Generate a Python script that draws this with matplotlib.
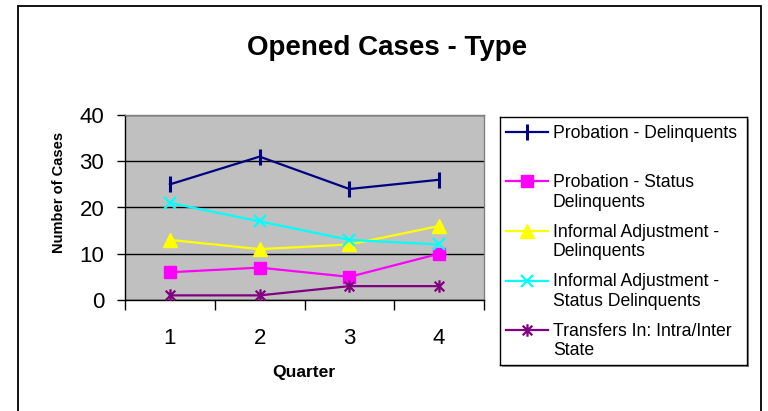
import matplotlib
matplotlib.use("Agg")
import matplotlib.pyplot as plt
from matplotlib.path import Path
from matplotlib.patches import Rectangle
from matplotlib.lines import Line2D

plt.rcParams['font.family'] = ['Liberation Sans', 'DejaVu Sans']

quarters = [1, 2, 3, 4]
probation_delinquents = [25, 31, 24, 26]
probation_status = [6, 7, 5, 10]
informal_delinquents = [13, 11, 12, 16]
informal_status = [21, 17, 13, 12]
transfers_in = [1, 1, 3, 3]

series_labels = [
    "Probation - Delinquents\n ",
    "Probation - Status\nDelinquents",
    "Informal Adjustment -\nDelinquents",
    "Informal Adjustment -\nStatus Delinquents",
    "Transfers In: Intra/Inter\nState",
]
y_ticks = [0, 10, 20, 30, 40]

star = Path([(-1, -1), (1, 1), (-1, 1), (1, -1), (0, -1.3), (0, 1.3)],
            [Path.MOVETO, Path.LINETO, Path.MOVETO, Path.LINETO, Path.MOVETO, Path.LINETO])

styles = [
    dict(color="#000080", marker="|", ms=11, mew=2.2),
    dict(color="#FF00FF", marker="s", ms=9, mew=1),
    dict(color="#FFFF00", marker="^", ms=9.5, mew=1),
    dict(color="#00FFFF", marker="x", ms=9, mew=1.6),
    dict(color="#800080", marker=star, ms=9, mew=1.6),
]
values = [probation_delinquents, probation_status, informal_delinquents,
          informal_status, transfers_in]

W, H = 768, 411
fig = plt.figure(figsize=(W / 100, H / 100), dpi=100)

# outer chart border
fig.patches.append(Rectangle((18 / W, -0.05), (761 - 18) / W, 1.05 - 6 / H,
                             transform=fig.transFigure, fill=False,
                             edgecolor="black", lw=1.3))

ax = fig.add_axes([125 / W, 1 - 300 / H, 359 / W, 185 / H])
ax.set_facecolor("#C0C0C0")
for vals, st in zip(values, styles):
    ax.plot(quarters, vals, color=st["color"], lw=1.6, marker=st["marker"],
            ms=st["ms"], mew=st["mew"], mfc=st["color"], mec=st["color"],
            zorder=3)

ax.set_xlim(0.5, 4.5)
ax.set_ylim(0, 40)
ax.set_yticks(y_ticks)
ax.set_yticklabels([str(t) for t in y_ticks], fontsize=16)
ax.tick_params(axis="y", direction="out", length=6, width=1, pad=9)
ax.yaxis.grid(True, color="black", lw=1)
ax.set_axisbelow(True)

ax.set_xticks([0.5, 1.5, 2.5, 3.5, 4.5])
ax.set_xticklabels([])
ax.set_xticks(quarters, minor=True)
ax.set_xticklabels([str(q) for q in quarters], minor=True, fontsize=16)
ax.tick_params(axis="x", which="major", direction="out", length=7, width=1)
ax.tick_params(axis="x", which="minor", length=0, pad=20)

for s in ["top", "right"]:
    ax.spines[s].set_color("#808080")
    ax.spines[s].set_linewidth(1)
for s in ["left", "bottom"]:
    ax.spines[s].set_color("black")
    ax.spines[s].set_linewidth(1)

fig.text(304 / W, 1 - 372 / H, "Quarter", ha="center", va="center",
         fontsize=12.6, fontweight="bold")
fig.text(59 / W, 1 - 192 / H, "Number of Cases", ha="center", va="center",
         rotation=90, fontsize=10.5, fontweight="bold")
fig.text(387 / W, 1 - 48 / H, "Opened Cases - Type", ha="center", va="center",
         fontsize=20, fontweight="bold")

# legend
lx0, ly0, lw_, lh_ = 500, 117, 247, 248
shadow = Rectangle(((lx0 + 2) / W, 1 - (ly0 + lh_ + 2) / H), lw_ / W, lh_ / H,
                   transform=fig.transFigure, facecolor="#909090",
                   edgecolor="none", zorder=-5)
fig.patches.append(shadow)
lax = fig.add_axes([lx0 / W, 1 - (ly0 + lh_) / H, lw_ / W, lh_ / H], zorder=5)
lax.set_facecolor("white")
lax.set_xlim(0, lw_)
lax.set_ylim(lh_, 0)
lax.set_xticks([])
lax.set_yticks([])
for s in lax.spines.values():
    s.set_color("black")
    s.set_linewidth(1)
for i, (lab, st) in enumerate(zip(series_labels, styles)):
    yc = 15 + i * 49.5
    lax.add_line(Line2D([6, 48], [yc, yc], color=st["color"], lw=1.6))
    lax.add_line(Line2D([27], [yc], color=st["color"], marker=st["marker"],
                        ms=st["ms"], mew=st["mew"], mfc=st["color"], mec=st["color"]))
    lax.text(53, yc - 7.5, lab, ha="left", va="top", fontsize=12.7,
             linespacing=1.2)

fig.savefig("out.png", dpi=100)
